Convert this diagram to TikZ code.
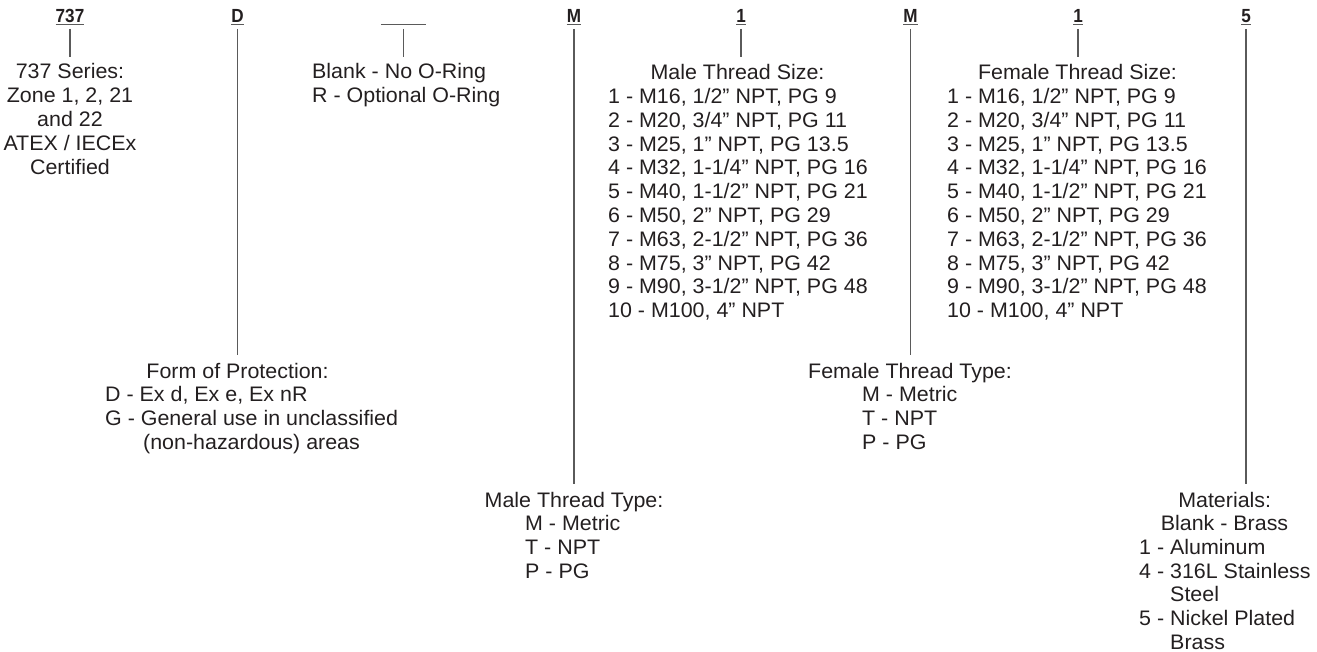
\documentclass[tikz,border=0pt]{standalone}
\usepackage{fontspec}
\setmainfont[FakeStretch=1.02]{Liberation Sans}
\newfontfamily\hdrfont[FakeStretch=0.9]{Liberation Sans}
\definecolor{txtc}{HTML}{231F20}
\definecolor{linec}{HTML}{5A5A5A}
\tikzset{
  tx/.style={inner sep=0pt, anchor=base west, font=\fontsize{21}{24}\selectfont, text=txtc},
  txc/.style={tx, anchor=base},
  hdr/.style={inner sep=0pt, anchor=base, font=\hdrfont\bfseries\fontsize{19}{20}\selectfont, text=txtc},
  conn/.style={draw=linec, line width=1.3pt, shorten <=5.8pt},
  uline/.style={draw=linec, line width=1.5pt},
}
\begin{document}
\begin{tikzpicture}[x=1pt,y=-1pt]
\useasboundingbox (0,0) rectangle (1317,652);
% headers
\node[hdr] (h1) at (70,23) {737};
\node[hdr] (h2) at (237.5,23) {D};
\node[hdr, minimum width=45pt] (h3) at (403.5,23) {};
\node[hdr] (h4) at (574,23) {M};
\node[hdr] (h5) at (741,23) {1};
\node[hdr] (h6) at (910.5,23) {M};
\node[hdr] (h7) at (1078,23) {1};
\node[hdr] (h8) at (1246,23) {5};
\foreach \h in {h1,h2,h3,h4,h5,h6,h7,h8}
  \draw[uline] ([yshift=-1.6pt]\h.base west) -- ([yshift=-1.6pt]\h.base east);

% 737 block
\node[txc] (a1) at (70,79) {737 Series:};
\node[txc] (a2) at (70,102.8) {Zone 1, 2, 21};
\node[txc] (a3) at (70,126.6) {and 22};
\node[txc] (a4) at (70,150.4) {ATEX / IECEx};
\node[txc] (a5) at (70,174.2) {Certified};

% O-ring block
\node[tx] (b1) at (312,79) {Blank - No O-Ring};
\node[tx] (b2) at (312,102.8) {R - Optional O-Ring};

% Form of protection
\node[txc] (c0) at (237.5,378) {Form of Protection:};
\node[tx] (c1) at (105,401.7) {D - Ex d, Ex e, Ex nR};
\node[tx] (c2) at (105,425.4) {G - General use in unclassified};
\node[tx] (c3) at (143,449.1) {(non-hazardous) areas};

% Male thread type
\node[txc] (d0) at (574,507) {Male Thread Type:};
\node[tx] (d1) at (525,530.7) {M - Metric};
\node[tx] (d2) at (525,554.4) {T - NPT};
\node[tx] (d3) at (525,578.1) {P - PG};

% Male thread size
\node[txc] (e0) at (737.5,80) {Male Thread Size:};
\node[tx] (e1) at (608,103.5) {1 - M16, 1/2” NPT, PG 9};
\node[tx] (e2) at (608,127.3) {2 - M20, 3/4” NPT, PG 11};
\node[tx] (e3) at (608,151.1) {3 - M25, 1” NPT, PG 13.5};
\node[tx] (e4) at (608,174.9) {4 - M32, 1-1/4” NPT, PG 16};
\node[tx] (e5) at (608,198.7) {5 - M40, 1-1/2” NPT, PG 21};
\node[tx] (e6) at (608,222.5) {6 - M50, 2” NPT, PG 29};
\node[tx] (e7) at (608,246.3) {7 - M63, 2-1/2” NPT, PG 36};
\node[tx] (e8) at (608,270.1) {8 - M75, 3” NPT, PG 42};
\node[tx] (e9) at (608,293.9) {9 - M90, 3-1/2” NPT, PG 48};
\node[tx] (e10) at (608,317.7) {10 - M100, 4” NPT};

% Female thread type
\node[txc] (f0) at (910,378) {Female Thread Type:};
\node[tx] (f1) at (862,401.7) {M - Metric};
\node[tx] (f2) at (862,425.4) {T - NPT};
\node[tx] (f3) at (862,449.1) {P - PG};

% Female thread size
\node[txc] (g0) at (1077.5,80) {Female Thread Size:};
\node[tx] (g1) at (947,103.5) {1 - M16, 1/2” NPT, PG 9};
\node[tx] (g2) at (947,127.3) {2 - M20, 3/4” NPT, PG 11};
\node[tx] (g3) at (947,151.1) {3 - M25, 1” NPT, PG 13.5};
\node[tx] (g4) at (947,174.9) {4 - M32, 1-1/4” NPT, PG 16};
\node[tx] (g5) at (947,198.7) {5 - M40, 1-1/2” NPT, PG 21};
\node[tx] (g6) at (947,222.5) {6 - M50, 2” NPT, PG 29};
\node[tx] (g7) at (947,246.3) {7 - M63, 2-1/2” NPT, PG 36};
\node[tx] (g8) at (947,270.1) {8 - M75, 3” NPT, PG 42};
\node[tx] (g9) at (947,293.9) {9 - M90, 3-1/2” NPT, PG 48};
\node[tx] (g10) at (947,317.7) {10 - M100, 4” NPT};

% Materials
\node[txc] (m0) at (1224.7,507) {Materials:};
\node[txc] (m1) at (1224.5,530.7) {Blank - Brass};
\node[tx] (m2) at (1139,554.4) {1 - Aluminum};
\node[tx] (m3) at (1139,578.1) {4 - 316L Stainless};
\node[tx] (m4) at (1170,601.8) {Steel};
\node[tx] (m5) at (1139,625.5) {5 - Nickel Plated};
\node[tx] (m6) at (1170,649.2) {Brass};

% connectors
\draw[conn, shorten >=6.8pt] (h1.base) -- (h1.base |- a1.north);
\draw[conn, shorten >=7.7pt] (h2.base) -- (h2.base |- c0.north);
\draw[conn, shorten >=6.8pt] (h3.base) -- (h3.base |- b1.north);
\draw[conn, shorten >=7.2pt] (h4.base) -- (h4.base |- d0.north);
\draw[conn, shorten >=7.7pt] (h5.base) -- (h5.base |- e0.north);
\draw[conn, shorten >=7.7pt] (h6.base) -- (h6.base |- f0.north);
\draw[conn, shorten >=7.7pt] (h7.base) -- (h7.base |- g0.north);
\draw[conn, shorten >=7.2pt] (h8.base) -- (h8.base |- m0.north);
\end{tikzpicture}
\end{document}
